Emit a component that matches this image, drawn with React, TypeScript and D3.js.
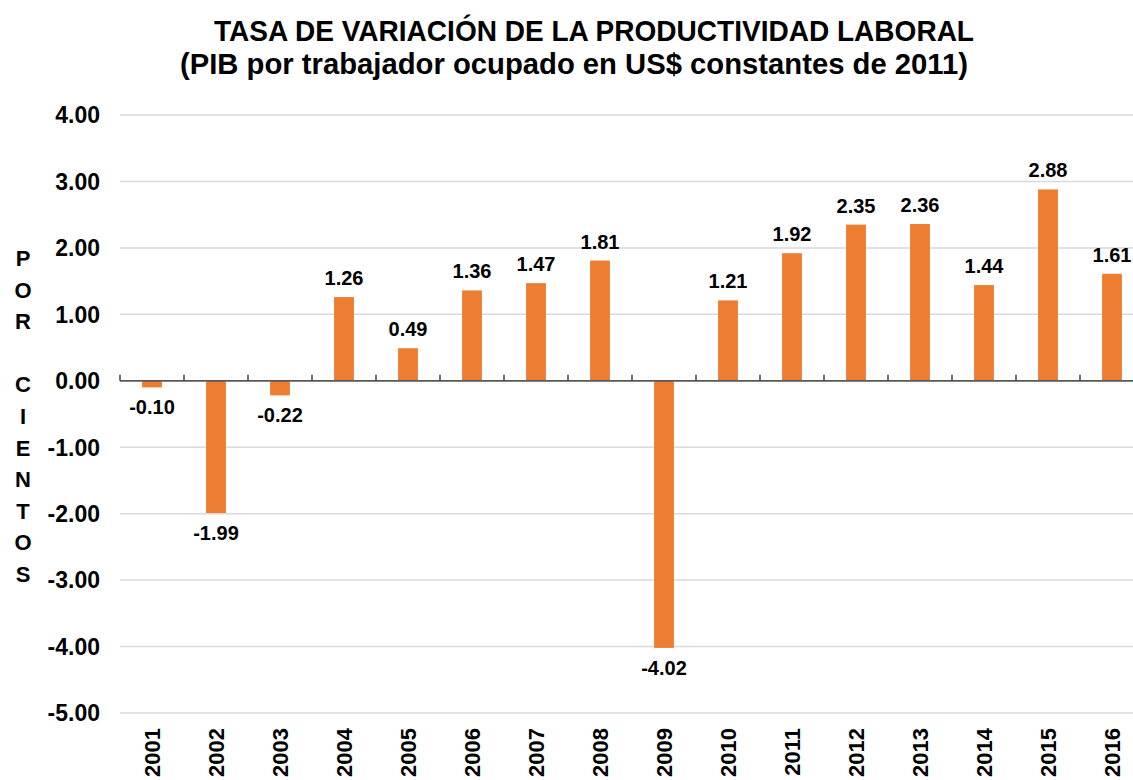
import React from 'react';
import * as d3 from 'd3';

const years = ['2001', '2002', '2003', '2004', '2005', '2006', '2007', '2008', '2009', '2010', '2011', '2012', '2013', '2014', '2015', '2016'];
const rates = [-0.10, -1.99, -0.22, 1.26, 0.49, 1.36, 1.47, 1.81, -4.02, 1.21, 1.92, 2.35, 2.36, 1.44, 2.88, 1.61];
const yTicks = [4, 3, 2, 1, 0, -1, -2, -3, -4, -5];
const titleLines = [
  'TASA DE VARIACIÓN  DE LA PRODUCTIVIDAD  LABORAL',
  '(PIB por trabajador  ocupado  en US$ constantes  de 2011)',
];
const axisLetters = ['P', 'O', 'R', '', 'C', 'I', 'E', 'N', 'T', 'O', 'S'];

const W = 1133;
const H = 780;
const FONT = '"Liberation Sans", Arial, Helvetica, sans-serif';

export default function App() {
  // escalas
  const x = d3.scaleBand<string>().domain(years).range([120, 120 + 64 * years.length]).paddingInner(0.69).paddingOuter(0.345);
  const y = d3.scaleLinear().domain([-5, 4]).range([713, 115]);
  const band = d3.scaleBand<string>().domain(years).range([120, 120 + 64 * years.length]);

  return (
    <svg width={W} height={H} style={{ position: 'absolute', left: 0, top: 0, background: '#fff' }} fontFamily={FONT}>
      {/* título */}
      <text x={594} y={41} textAnchor="middle" fontSize={30} fontWeight="bold" textLength={760} lengthAdjust="spacingAndGlyphs">{titleLines[0]}</text>
      <text x={574} y={74} textAnchor="middle" fontSize={30} fontWeight="bold" textLength={788} lengthAdjust="spacingAndGlyphs">{titleLines[1]}</text>

      {/* rejilla */}
      {yTicks.filter(t => t !== 0).map(t => (
        <line key={t} x1={120} x2={W} y1={y(t)} y2={y(t)} stroke="#d9d9d9" strokeWidth={1.5} />
      ))}
      {yTicks.map(t => (
        <text key={'l' + t} x={100} y={y(t)} dy="0.36em" textAnchor="end" fontSize={23} fontWeight="bold" fill="#000">{t.toFixed(2)}</text>
      ))}

      {/* barras */}
      {years.map((yr, i) => {
        const v = rates[i];
        const y0 = y(0);
        const yv = y(v);
        return (
          <rect key={yr} x={x(yr)} width={x.bandwidth()} y={Math.min(y0, yv)} height={Math.abs(yv - y0)} fill="#ED7D31" />
        );
      })}

      {/* eje cero */}
      <line x1={120} x2={W} y1={y(0)} y2={y(0)} stroke="#595959" strokeWidth={1.8} />
      {d3.range(years.length + 1).map(i => {
        const tx = 120 + band.step() * i;
        return <line key={'t' + i} x1={tx} x2={tx} y1={y(0)} y2={y(0) - 6} stroke="#404040" strokeWidth={1.5} />;
      })}

      {/* etiquetas de datos */}
      {years.map((yr, i) => {
        const v = rates[i];
        const cx = (band(yr) || 0) + band.bandwidth() / 2;
        const ly = v >= 0 ? y(v) - 12 : y(v) + 27;
        return (
          <text key={'d' + yr} x={cx} y={ly} textAnchor="middle" fontSize={20} fontWeight="bold" fill="#000">{v.toFixed(2)}</text>
        );
      })}

      {/* años */}
      {years.map(yr => {
        const cx = (band(yr) || 0) + band.bandwidth() / 2;
        return (
          <text key={'y' + yr} transform={`translate(${cx + 8},728) rotate(-90)`} textAnchor="end" fontSize={22} fontWeight="bold" fill="#000">{yr}</text>
        );
      })}

      {/* título del eje */}
      {axisLetters.map((c, i) => (
        <text key={'a' + i} x={23} y={258 + i * 31.6} dy="0.36em" textAnchor="middle" fontSize={22} fontWeight="bold" fill="#000">{c}</text>
      ))}
    </svg>
  );
}
